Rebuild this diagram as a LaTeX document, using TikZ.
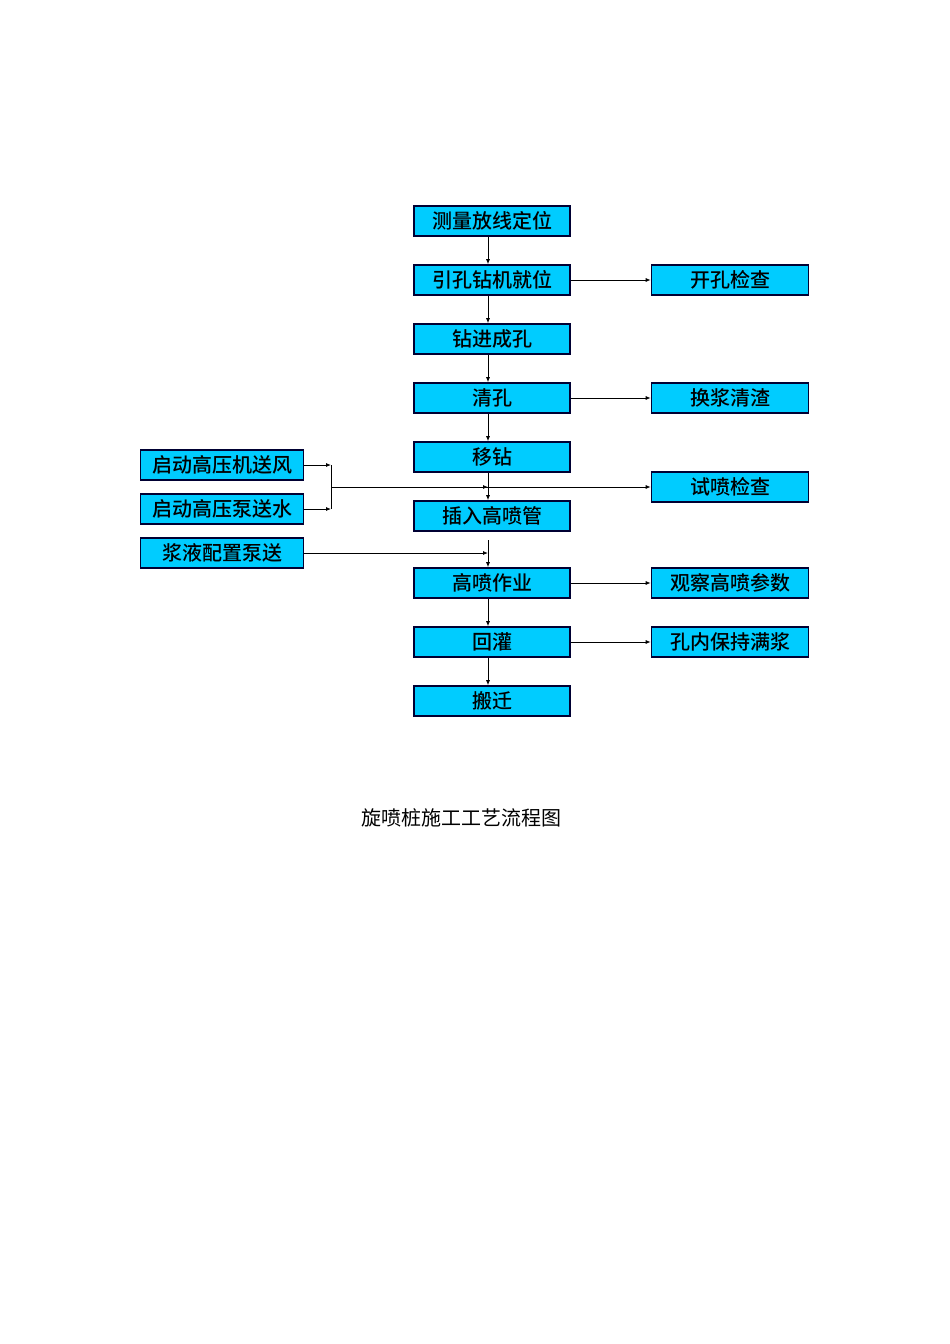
\documentclass[tikz,border=0pt]{standalone}
\usepackage{fontspec}
\newfontfamily\cjk{Noto Sans CJK SC}
\newfontfamily\cjkb{Noto Sans CJK SC Medium}
\usetikzlibrary{arrows.meta}
\begin{document}
\begin{tikzpicture}[x=1pt,y=-1pt,
  bx/.style={draw=black!80!blue,line width=1.6pt,fill={rgb,255:red,0;green,204;blue,255},minimum height=30pt,inner sep=0pt,font=\cjkb\fontsize{20}{20}\selectfont},
  mb/.style={bx,minimum width=156pt},
  rb/.style={bx,minimum width=157pt},
  lb/.style={bx,minimum width=163pt},
  ar/.style={-{Latex[length=5pt,width=4pt]},line width=0.8pt}]
\useasboundingbox (0,0) rectangle (950,1344);
\node[mb] (a) at (492,221) {测量放线定位};
\node[mb] (b) at (492,280) {引孔钻机就位};
\node[mb] (c) at (492,339) {钻进成孔};
\node[mb] (d) at (492,398) {清孔};
\node[mb] (e) at (492,457) {移钻};
\node[mb] (f) at (492,516) {插入高喷管};
\node[mb] (g) at (492,583) {高喷作业};
\node[mb] (h) at (492,642) {回灌};
\node[mb] (i) at (492,701) {搬迁};
\node[rb] (r1) at (730,280) {开孔检查};
\node[rb] (r2) at (730,398) {换浆清渣};
\node[rb] (r3) at (730,487) {试喷检查};
\node[rb] (r4) at (730,583) {观察高喷参数};
\node[rb] (r5) at (730,642) {孔内保持满浆};
\node[lb] (l1) at (222,465) {启动高压机送风};
\node[lb] (l2) at (222,509) {启动高压泵送水};
\node[lb] (l3) at (222,553) {浆液配置泵送};
\foreach \u/\v in {a/b,b/c,c/d,d/e,e/f,h/i,g/h}
  \draw[ar] (\u.south -| 488,0) -- (\v.north -| 488,0);
\foreach \u/\v in {b/r1,d/r2,g/r4,h/r5}
  \draw[ar] (\u) -- (\v);
\coordinate (j) at (331,487);
\draw[line width=0.8pt] (331,465) -- (331,509);
\draw[ar] (l1.east) -- (331,465);
\draw[ar] (l2.east) -- (331,509);
\draw[ar] (j) -- (r3.west);
\draw[ar] (j) -- (488,487);
\coordinate (m) at (488,540);
\draw[ar] (m) -- (g.north -| 488,0);
\draw[ar] (l3.east) -- (488,553);
\node[font=\cjk\fontsize{20}{20}\selectfont] (cap) at (461,818) {旋喷桩施工工艺流程图};
\end{tikzpicture}
\end{document}
